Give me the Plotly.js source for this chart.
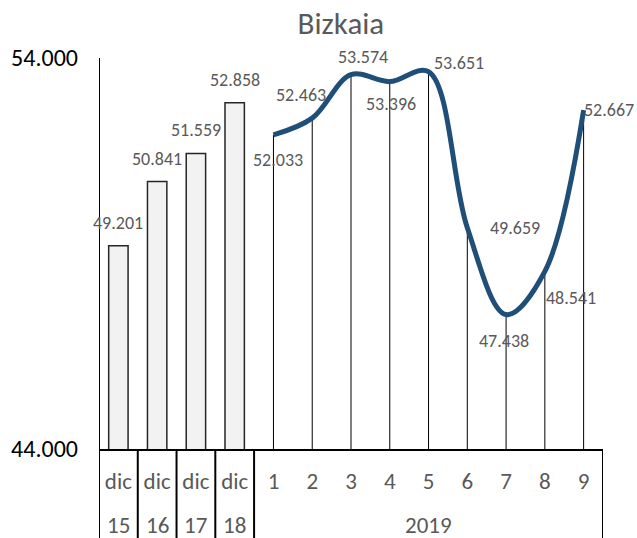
<!DOCTYPE html>
<html>
<head>
<meta charset="utf-8">
<script src="https://cdn.plot.ly/plotly-3.0.1.min.js"></script>
<style>html,body{margin:0;padding:0;background:#fff;}#chart{width:637px;height:538px;}</style>
</head>
<body>
<div id="chart"></div>
<script>
// ---- data ----
const categoryLabels = ["dic","dic","dic","dic","1","2","3","4","5","6","7","8","9"];
const groupLabels = ["15","16","17","18","2019"];
const groupSizes = [1,1,1,1,9];
const barValues = [49201, 50841, 51559, 52858];
const lineValues = [52033, 52463, 53574, 53396, 53651, 49659, 47438, 48541, 52667];
const yTickValues = [44000, 54000];
const yTickLabels = ["44.000", "54.000"];

// ---- label placement (pixels, styling only) ----
const barLabelOffsets = [[0,23],[0,23],[0,23],[0,23]];
const lineLabelOffsets = [[5,-25],[-11,23],[12,18],[1,-22],[30,9],[48,0],[-2,-26],[26,-27],[25,0]];

const FONT = "Carlito, Calibri, Lato, sans-serif";
const GRAY = "#595959";
const yMin = yTickValues[0], yMax = yTickValues[1];

function fmt(v){ return Math.floor(v/1000) + "." + String(v % 1000).padStart(3, "0"); }

const nBars = barValues.length;
const barX = barValues.map((_, i) => i);
const lineX = lineValues.map((_, i) => i + nBars);

// drop lines from each line point down to the axis
const dropX = [], dropY = [];
lineValues.forEach((v, i) => { dropX.push(lineX[i], lineX[i], null); dropY.push(v, yMin, null); });

const traces = [
  { type: "bar", x: barX, y: barValues, width: 0.5,
    marker: { color: "#f2f2f2", line: { color: "#262626", width: 1.5 } },
    hoverinfo: "skip", showlegend: false },
  { type: "scatter", mode: "lines", x: dropX, y: dropY,
    line: { color: "#000000", width: 1 }, hoverinfo: "skip", showlegend: false },
  { type: "scatter", mode: "lines", x: lineX, y: lineValues,
    line: { color: "#1f4e79", width: 5, shape: "spline", smoothing: 1 },
    hoverinfo: "skip", showlegend: false }
];

const annotations = [];
barValues.forEach((v, i) => annotations.push({
  x: barX[i], y: v, xref: "x", yref: "y", text: fmt(v), showarrow: false,
  xanchor: "center", yanchor: "middle", xshift: barLabelOffsets[i][0], yshift: barLabelOffsets[i][1],
  font: { family: FONT, size: 18, color: GRAY }
}));
lineValues.forEach((v, i) => annotations.push({
  x: lineX[i], y: v, xref: "x", yref: "y", text: fmt(v), showarrow: false,
  xanchor: "center", yanchor: "middle", xshift: lineLabelOffsets[i][0], yshift: lineLabelOffsets[i][1],
  font: { family: FONT, size: 18, color: GRAY }
}));

// group (second row) labels and separators
const shapes = [];
let start = 0;
const nCats = categoryLabels.length;
const belowPaper = -89 / 391;
shapes.push({ type: "line", xref: "x", yref: "paper", x0: -0.5, x1: -0.5, y0: 1, y1: belowPaper,
  line: { color: "#000", width: 2 } });
groupLabels.forEach((g, gi) => {
  const s = groupSizes[gi];
  const center = start + (s - 1) / 2;
  annotations.push({ x: center, y: 0, xref: "x", yref: "paper", text: g, showarrow: false,
    xanchor: "center", yanchor: "middle", yshift: -76,
    font: { family: FONT, size: 23, color: GRAY } });
  const edge = start + s - 0.5;
  shapes.push({ type: "line", xref: "x", yref: "paper", x0: edge, x1: edge, y0: 0, y1: belowPaper,
    line: { color: "#000", width: 2 } });
  start += s;
});

const layout = {
  width: 637, height: 538,
  margin: { l: 99, r: 34, t: 58, b: 89, pad: 0 },
  paper_bgcolor: "#ffffff", plot_bgcolor: "#ffffff",
  title: { text: "Bizkaia", font: { family: FONT, size: 31, color: GRAY },
    xref: "paper", x: 0.48, xanchor: "center", yref: "container", y: 0.957, yanchor: "middle" },
  showlegend: false,
  xaxis: {
    range: [-0.5, nCats - 0.5], tickmode: "array",
    tickvals: categoryLabels.map((_, i) => i), ticktext: categoryLabels,
    ticks: "", ticklabelstandoff: 10,
    tickfont: { family: FONT, size: 23, color: GRAY },
    showgrid: false, zeroline: false, showline: true, linecolor: "#000", linewidth: 2, fixedrange: true
  },
  yaxis: {
    range: [yMin, yMax], tickmode: "array", tickvals: yTickValues, ticktext: yTickLabels,
    ticks: "", ticklabelstandoff: 20,
    tickfont: { family: FONT, size: 24, color: "#000" },
    showgrid: false, zeroline: false, showline: false, fixedrange: true
  },
  annotations: annotations,
  shapes: shapes
};

Plotly.newPlot("chart", traces, layout, { displayModeBar: false, staticPlot: true });
</script>
</body>
</html>
